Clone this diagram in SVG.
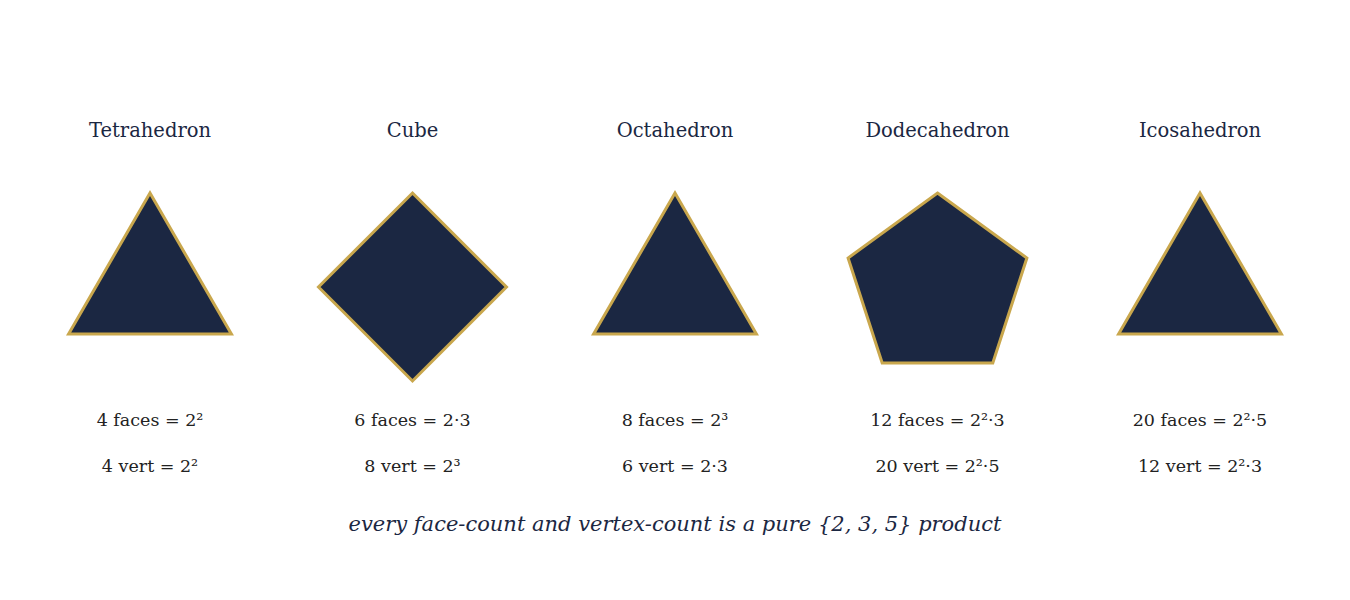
<svg xmlns="http://www.w3.org/2000/svg" width="1350" height="600" viewBox="0 0 1350 600">
<style>
.bg{fill:#ffffff}
.shape{fill:#1b2742;stroke:#c9a74d;stroke-width:3;stroke-linejoin:miter}
.title{font-family:"DejaVu Serif",serif;font-size:19.5px;fill:#1b2742;text-anchor:middle}
.data{font-family:"DejaVu Serif",serif;font-size:17.5px;fill:#222222;text-anchor:middle}
.foot{font-family:"DejaVu Serif",serif;font-size:21px;font-style:italic;fill:#1b2742;text-anchor:middle}
</style>
<rect class="bg" x="0" y="0" width="1350" height="600"/>
<g id="connectors"/>
<g id="tetrahedron">
<text class="title" x="150" y="137">Tetrahedron</text>
<polygon class="shape" points="150,193 231.4,334 68.6,334"/>
<text class="data" x="150" y="426">4 faces = 2²</text>
<text class="data" x="150" y="472">4 vert = 2²</text>
</g>
<g id="cube">
<text class="title" x="412.5" y="137">Cube</text>
<polygon class="shape" points="412.5,193 506.5,287 412.5,381 318.5,287"/>
<text class="data" x="412.5" y="426">6 faces = 2·3</text>
<text class="data" x="412.5" y="472">8 vert = 2³</text>
</g>
<g id="octahedron">
<text class="title" x="675" y="137">Octahedron</text>
<polygon class="shape" points="675,193 756.4,334 593.6,334"/>
<text class="data" x="675" y="426">8 faces = 2³</text>
<text class="data" x="675" y="472">6 vert = 2·3</text>
</g>
<g id="dodecahedron">
<text class="title" x="937.5" y="137">Dodecahedron</text>
<polygon class="shape" points="937.5,193 1026.9,258 992.8,363 882.2,363 848.1,258"/>
<text class="data" x="937.5" y="426">12 faces = 2²·3</text>
<text class="data" x="937.5" y="472">20 vert = 2²·5</text>
</g>
<g id="icosahedron">
<text class="title" x="1200" y="137">Icosahedron</text>
<polygon class="shape" points="1200,193 1281.4,334 1118.6,334"/>
<text class="data" x="1200" y="426">20 faces = 2²·5</text>
<text class="data" x="1200" y="472">12 vert = 2²·3</text>
</g>
<g id="footer">
<text class="foot" x="675" y="531">every face-count and vertex-count is a pure {2, 3, 5} product</text>
</g>
</svg>
